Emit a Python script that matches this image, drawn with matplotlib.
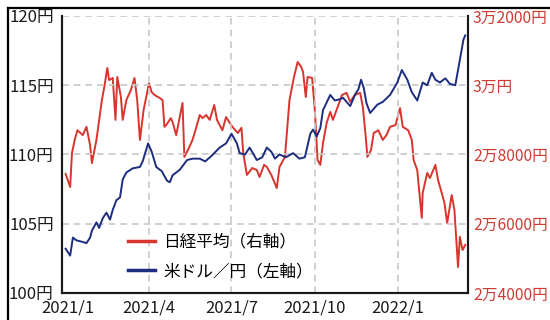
import matplotlib
matplotlib.use("Agg")
import matplotlib.pyplot as plt
from matplotlib.lines import Line2D
import pandas as pd

plt.rcParams['font.family'] = ['Noto Sans CJK JP', 'DejaVu Sans']

# USD/JPY (left axis, yen)
usd_dates = [
    "2020-12-30", "2021-01-04", "2021-01-07", "2021-01-11", "2021-01-17", "2021-01-22",
    "2021-01-26", "2021-01-28", "2021-02-02", "2021-02-05", "2021-02-09", "2021-02-13",
    "2021-02-17", "2021-02-20", "2021-02-24", "2021-02-28", "2021-03-03", "2021-03-07",
    "2021-03-14", "2021-03-22", "2021-03-25", "2021-03-31", "2021-04-04", "2021-04-09",
    "2021-04-15", "2021-04-21", "2021-04-24", "2021-04-27", "2021-05-05", "2021-05-13",
    "2021-05-19", "2021-05-27", "2021-06-02", "2021-06-09", "2021-06-18", "2021-06-25",
    "2021-07-01", "2021-07-07", "2021-07-10", "2021-07-16", "2021-07-21", "2021-07-29",
    "2021-08-04", "2021-08-09", "2021-08-14", "2021-08-18", "2021-08-23", "2021-08-30",
    "2021-09-07", "2021-09-14", "2021-09-20", "2021-09-26", "2021-09-29", "2021-10-03",
    "2021-10-07", "2021-10-10", "2021-10-18", "2021-10-23", "2021-10-29", "2021-11-01",
    "2021-11-09", "2021-11-15", "2021-11-18", "2021-11-21", "2021-11-24", "2021-11-27",
    "2021-12-01", "2021-12-09", "2021-12-15", "2021-12-23", "2021-12-31", "2022-01-05",
    "2022-01-11", "2022-01-16", "2022-01-22", "2022-01-28", "2022-02-02", "2022-02-07",
    "2022-02-11", "2022-02-16", "2022-02-22", "2022-02-27", "2022-03-05", "2022-03-08",
    "2022-03-14", "2022-03-16",
]
usd_jpy = [
    103.2, 102.7, 104.0, 103.8, 103.7, 103.6,
    104.0, 104.5, 105.1, 104.7, 105.4, 105.8,
    105.3, 106.0, 106.7, 106.9, 108.2, 108.7,
    109.0, 109.1, 109.5, 110.8, 110.2, 109.1,
    108.8, 108.1, 108.0, 108.5, 108.9, 109.6,
    109.7, 109.7, 109.5, 109.9, 110.5, 110.8,
    111.5, 110.8, 110.1, 110.0, 110.5, 109.6,
    109.8, 110.5, 110.2, 109.7, 110.0, 109.8,
    110.1, 109.7, 109.8, 111.5, 111.8, 111.3,
    111.9, 113.2, 114.3, 113.9, 114.0, 114.1,
    113.5, 114.4, 114.7, 115.4, 114.8, 113.7,
    113.0, 113.6, 113.8, 114.3, 115.2, 116.1,
    115.4, 114.5, 113.9, 115.2, 115.0, 115.9,
    115.4, 115.2, 115.5, 115.1, 115.0, 116.1,
    118.3, 118.6,
]

# Nikkei 225 (right axis, yen)
nk_dates = [
    "2020-12-30", "2021-01-04", "2021-01-06", "2021-01-09", "2021-01-12", "2021-01-18",
    "2021-01-22", "2021-01-26", "2021-01-28", "2021-02-02", "2021-02-08", "2021-02-11",
    "2021-02-14", "2021-02-16", "2021-02-20", "2021-02-23", "2021-02-25", "2021-03-01",
    "2021-03-03", "2021-03-07", "2021-03-12", "2021-03-16", "2021-03-19", "2021-03-22",
    "2021-03-26", "2021-04-01", "2021-04-04", "2021-04-07", "2021-04-13", "2021-04-16",
    "2021-04-18", "2021-04-20", "2021-04-25", "2021-04-27", "2021-05-01", "2021-05-08",
    "2021-05-10", "2021-05-14", "2021-05-19", "2021-05-23", "2021-05-27", "2021-05-30",
    "2021-06-03", "2021-06-07", "2021-06-12", "2021-06-15", "2021-06-21", "2021-06-25",
    "2021-07-02", "2021-07-08", "2021-07-12", "2021-07-14", "2021-07-18", "2021-07-24",
    "2021-07-29", "2021-08-01", "2021-08-06", "2021-08-09", "2021-08-14", "2021-08-20",
    "2021-08-23", "2021-08-29", "2021-09-03", "2021-09-08", "2021-09-12", "2021-09-16",
    "2021-09-18", "2021-09-21", "2021-09-23", "2021-09-28", "2021-10-01", "2021-10-04",
    "2021-10-07", "2021-10-10", "2021-10-14", "2021-10-18", "2021-10-21", "2021-10-27",
    "2021-10-31", "2021-11-05", "2021-11-09", "2021-11-14", "2021-11-20", "2021-11-23",
    "2021-11-26", "2021-11-28", "2021-12-02", "2021-12-05", "2021-12-10", "2021-12-15",
    "2021-12-19", "2021-12-23", "2021-12-29", "2022-01-03", "2022-01-06", "2022-01-12",
    "2022-01-16", "2022-01-18", "2022-01-22", "2022-01-27", "2022-01-28", "2022-02-02",
    "2022-02-05", "2022-02-11", "2022-02-14", "2022-02-18", "2022-02-21", "2022-02-24",
    "2022-03-01", "2022-03-04", "2022-03-08", "2022-03-10", "2022-03-13", "2022-03-16",
]
nikkei = [
    27440, 27060, 28040, 28420, 28700, 28560,
    28800, 28270, 27750, 28420, 29570, 30000,
    30500, 30150, 30210, 29000, 30240, 29660,
    29000, 29570, 29860, 30210, 29570, 28420,
    29280, 30060, 29800, 29720, 29630, 29570,
    28800, 28850, 29050, 28940, 28560, 29490,
    27930, 28130, 28420, 28770, 29140, 29050,
    29140, 29000, 29430, 29000, 28700, 29080,
    28800, 28620, 28770, 28040, 27410, 27610,
    27550, 27350, 27700, 27640, 27410, 27030,
    27640, 27930, 29570, 30240, 30670, 30530,
    30380, 29660, 30240, 30210, 29280, 27840,
    27700, 28330, 28910, 29230, 29000, 29430,
    29720, 29780, 29520, 29720, 29780, 29370,
    28560, 27930, 28130, 28620, 28700, 28420,
    28560, 28800, 28850, 29340, 28800, 28700,
    28420, 27840, 27550, 26170, 26890, 27470,
    27320, 27700, 27260, 26890, 26600, 26020,
    26830, 26400, 24750, 25620, 25240, 25390,
]

x_ticks = ["2021-01-01", "2021-04-01", "2021-07-01", "2021-10-01", "2022-01-01"]
x_labels = ["2021/1", "2021/4", "2021/7", "2021/10", "2022/1"]
left_ticks = [100, 105, 110, 115, 120]
left_labels = ["100円", "105円", "110円", "115円", "120円"]
right_ticks = [24000, 26000, 28000, 30000, 32000]
right_labels = ["2万4000円", "2万6000円", "2万8000円", "3万円", "3万2000円"]

RED = "#d8352d"
BLUE = "#1d2d80"
RED_TEXT = "#cf3a32"

usd_x = pd.to_datetime(usd_dates)
nk_x = pd.to_datetime(nk_dates)
tick_x = pd.to_datetime(x_ticks)

fig = plt.figure(figsize=(5.5, 3.2), dpi=100)
ax = fig.add_axes([62 / 550, 1 - 293 / 320, 406 / 550, 277 / 320])
ax2 = ax.twinx()

# grid lines (skip the one sitting on the left spine)
for t in tick_x[1:]:
    ax.axvline(t, color="#c8c8c8", lw=1.2, ls=(0, (4, 3)), zorder=0)
for v in left_ticks[1:]:
    ax.axhline(v, color="#c8c8c8", lw=1.2, ls=(0, (4, 3)), zorder=0)

l_nk, = ax2.plot(nk_x, nikkei, color=RED, lw=1.4)
l_usd, = ax.plot(usd_x, usd_jpy, color=BLUE, lw=1.4)

ax.set_zorder(ax2.get_zorder() + 1)
ax.patch.set_visible(False)

ax.set_xlim(pd.Timestamp("2020-12-26"), pd.Timestamp("2022-03-19"))
ax.set_ylim(100, 120)
ax2.set_ylim(24000, 32000)

ax.set_xticks(tick_x)
ax.set_xticklabels(x_labels)
ax.set_yticks(left_ticks)
ax.set_yticklabels(left_labels)
ax2.set_yticks(right_ticks)
ax2.set_yticklabels(right_labels)

ax.tick_params(axis="both", length=0, labelsize=12, colors="#1a1a1a")
ax.tick_params(axis="y", pad=6)
ax.tick_params(axis="x", pad=5)
ax2.tick_params(axis="y", length=0, labelsize=11.3, colors=RED_TEXT, pad=3.5)

for a in (ax, ax2):
    a.spines["top"].set_visible(False)
    for s in ("left", "right", "bottom"):
        a.spines[s].set_linewidth(1.5)
        a.spines[s].set_color("#1a1a1a")

ax.legend([l_nk, l_usd], ["日経平均（右軸）", "米ドル／円（左軸）"],
          loc="center left", bbox_to_anchor=(0.163, 0.13), frameon=False,
          fontsize=12, handlelength=1.6, handletextpad=0.5, labelspacing=0.75,
          borderpad=0, borderaxespad=0)
for h in ax.get_legend().get_lines():
    h.set_linewidth(2.5)

# outer frame along the top and left edges
fig.add_artist(Line2D([8 / 550, 1], [1 - 8 / 320, 1 - 8 / 320], color="black", lw=1.6,
                      transform=fig.transFigure))
fig.add_artist(Line2D([8 / 550, 8 / 550], [0, 1 - 8 / 320], color="black", lw=1.6,
                      transform=fig.transFigure))

fig.savefig("out.png", dpi=100)
